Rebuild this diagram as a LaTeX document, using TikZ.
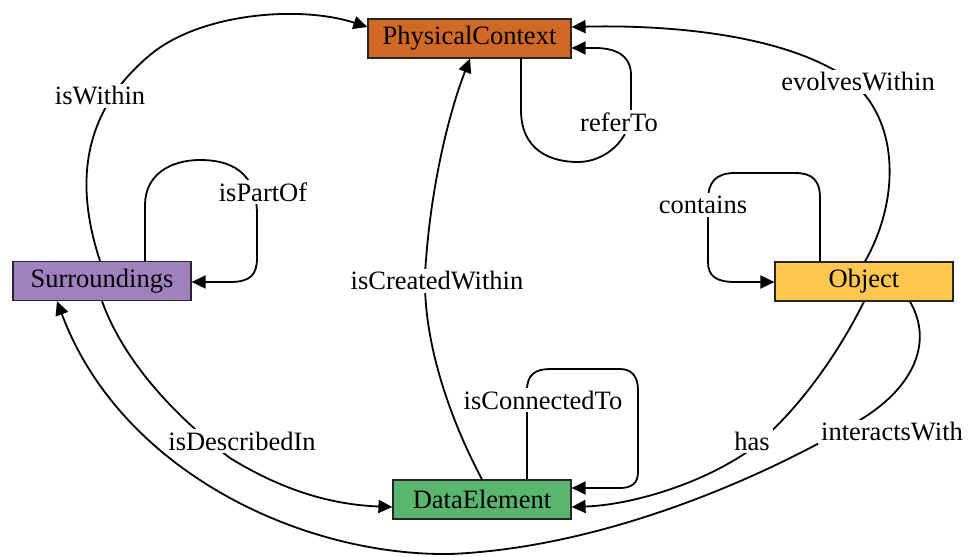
\documentclass[tikz,border=0pt]{standalone}
\usepackage{fontspec}
\setmainfont{Liberation Serif}
\newfontfamily\tmsfont{Liberation Serif}
\usetikzlibrary{arrows.meta}
\definecolor{pcfill}{RGB}{209,105,38}
\definecolor{sufill}{RGB}{160,128,190}
\definecolor{obfill}{RGB}{255,198,80}
\definecolor{defill}{RGB}{90,182,110}
\begin{document}
\begin{tikzpicture}[x=1pt,y=-1pt,
  box/.style={draw=black!85,line width=1.2pt,minimum height=39pt,inner sep=0pt,font=\tmsfont\fontsize{26.5}{30}\selectfont},
  lbl/.style={fill=white,inner sep=3pt,font=\tmsfont\fontsize{26.5}{30}\selectfont},
  edge/.style={line width=1.8pt,-{Triangle[length=14pt,width=13pt]}}]
\useasboundingbox (0,0) rectangle (978,557);
\node[box,fill=pcfill,minimum width=203pt] (PC) at (469.5,38.5) {PhysicalContext};
\node[box,fill=sufill,minimum width=178pt] (S) at (102,281) {Surroundings};
\node[box,fill=obfill,minimum width=178pt] (O) at (864,281.5) {Object};
\node[box,fill=defill,minimum width=178pt] (D) at (482,499.5) {DataElement};
% isWithin
\draw[edge] ([xshift=-2pt]S.north) .. controls (80,200) and (72,120) .. (150,55) .. controls (200,13) and (300,5) .. ([yshift=11.5pt]PC.west);
% isPartOf
\draw[edge] ([xshift=43pt]S.north) -- (145,205) .. controls (145,175) and (170,160) .. (200,160) .. controls (240,160) and (257,180) .. (257,215) -- (257,258) .. controls (257,275) and (250,282) .. (230,282) -- ([yshift=-1pt]S.east);
% referTo
\draw[edge] ([xshift=51.5pt]PC.south) -- (521,110) .. controls (521,150) and (550,162) .. (578,162) .. controls (605,162) and (631,140) .. (631,110) -- (631,75) .. controls (631,55) and (615,48) .. (595,48) -- ([yshift=-9.5pt]PC.east);
% evolvesWithin
\draw[edge] ([xshift=1pt]O.north) .. controls (900,200) and (900,120) .. (850,80) .. controls (780,30) and (650,25) .. ([yshift=11.5pt]PC.east);
% contains
\draw[edge] ([xshift=-44pt]O.north) -- (820,198) .. controls (820,180) and (812,173) .. (795,173) -- (735,173) .. controls (716,173) and (708,182) .. (708,200) -- (708,262) .. controls (708,276) and (716,282) .. (735,282) -- ([yshift=-0.5pt]O.west);
% isCreatedWithin
\draw[edge] (D.north) .. controls (440,400) and (420,320) .. (426,260) .. controls (432,180) and (450,110) .. ([xshift=0.5pt]PC.south);
% isConnectedTo
\draw[edge] ([xshift=45pt]D.north) -- (527,390) .. controls (527,375) and (535,369) .. (550,369) -- (620,369) .. controls (632,369) and (638,377) .. (638,390) -- (638,472) .. controls (638,483) and (632,488) .. (620,488) -- ([yshift=11.5pt]D.east);
% has
\draw[edge] (O.south) .. controls (840,350) and (800,410) .. (750,450) .. controls (700,485) and (630,505) .. ([yshift=-7.5pt]D.east);
% interactsWith
\draw[edge] ([xshift=46pt]O.south) .. controls (935,345) and (910,390) .. (860,420) .. controls (760,480) and (600,548) .. (450,554) .. controls (300,556) and (120,470) .. ([xshift=-45pt]S.south);
% isDescribedIn
\draw[edge] (S.south) .. controls (125,365) and (180,420) .. (230,458) .. controls (290,495) and (340,505) .. ([yshift=-7.5pt]D.west);
% labels
\node[lbl] (lWithin) at (100,96) {isWithin};
\node[lbl] (lPartOf) at (263,192) {isPartOf};
\node[lbl] (lRefer) at (619,122) {referTo};
\node[lbl] (lEvolves) at (858,82) {evolvesWithin};
\node[lbl] (lContains) at (703,205) {contains};
\node[lbl] (lCreated) at (437,281) {isCreatedWithin};
\node[lbl] (lConnected) at (543,400) {isConnectedTo};
\node[lbl] (lHas) at (752,441) {has};
\node[lbl] (lInteracts) at (892,432) {interactsWith};
\node[lbl] (lDescribed) at (242,441) {isDescribedIn};
\end{tikzpicture}
\end{document}
